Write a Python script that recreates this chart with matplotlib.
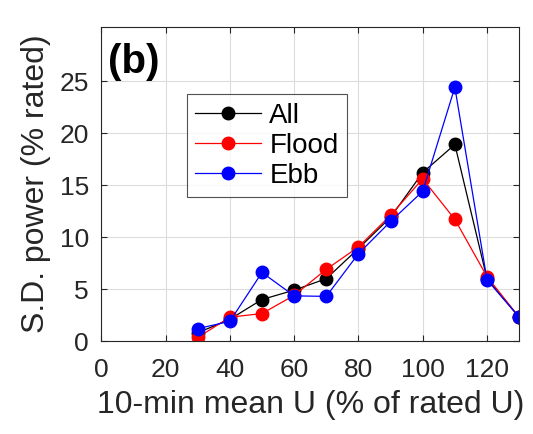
import matplotlib

matplotlib.use("Agg")

import matplotlib.pyplot as plt

plt.rcParams["font.family"] = ["Liberation Sans", "DejaVu Sans"]

x_all = [30, 40, 50, 60, 70, 80, 90, 100, 110, 120, 130]
all_sd = [0.8, 2.1, 4.0, 4.9, 6.0, 8.9, 11.9, 16.2, 18.9, 6.0, 2.3]
flood_sd = [0.35, 2.3, 2.65, 4.4, 6.9, 9.05, 12.1, 15.6, 11.7, 6.2, 2.3]
ebb_sd = [1.2, 1.9, 6.6, 4.35, 4.3, 8.4, 11.5, 14.4, 24.4, 5.9, 2.3]

x_ticks = [0, 20, 40, 60, 80, 100, 120]
y_ticks = [0, 5, 10, 15, 20, 25]

fig = plt.figure(figsize=(5.33, 4.34), dpi=100)
fig.patch.set_facecolor("white")
ax = fig.add_axes([0.190, 0.214, 0.784, 0.724])

series = [
    ("All", all_sd, "black"),
    ("Flood", flood_sd, "#ff0000"),
    ("Ebb", ebb_sd, "#0000ff"),
]
for name, values, color in series:
    ax.plot(x_all, values, color=color, linewidth=0.9, marker="o",
            markersize=9, markerfacecolor=color, markeredgecolor=color,
            label=name)

ax.set_xlim(0, 130)
ax.set_ylim(0, 30.2)
ax.set_xticks(x_ticks)
ax.set_yticks(y_ticks)
ax.grid(True, color="#dcdcdc", linewidth=0.8)
ax.set_axisbelow(True)
ax.tick_params(direction="in", length=4, width=0.8, labelsize=19,
               top=True, right=True, colors="#262626")
ax.tick_params(axis="x", pad=12)
ax.tick_params(axis="y", pad=9)
for spine in ax.spines.values():
    spine.set_color("#262626")
    spine.set_linewidth(0.8)

ax.set_xlabel("10-min mean U (% of rated U)", fontsize=23, color="#262626",
              labelpad=6)
ax.set_ylabel("S.D. power (% rated)", fontsize=23, color="#262626",
              labelpad=6)

ax.text(0.016, 0.95, "(b)", transform=ax.transAxes, ha="left", va="top",
        fontsize=29, fontweight="bold", color="black")

leg = ax.legend(loc="upper left", bbox_to_anchor=(0.205, 0.785), fontsize=20,
                frameon=True, fancybox=False, borderpad=0.3, labelspacing=0.15,
                handlelength=2.37, handletextpad=0.3, borderaxespad=0)
leg.get_frame().set_edgecolor("#262626")
leg.get_frame().set_linewidth(0.8)

fig.savefig("out.png", dpi=100, facecolor="white")
